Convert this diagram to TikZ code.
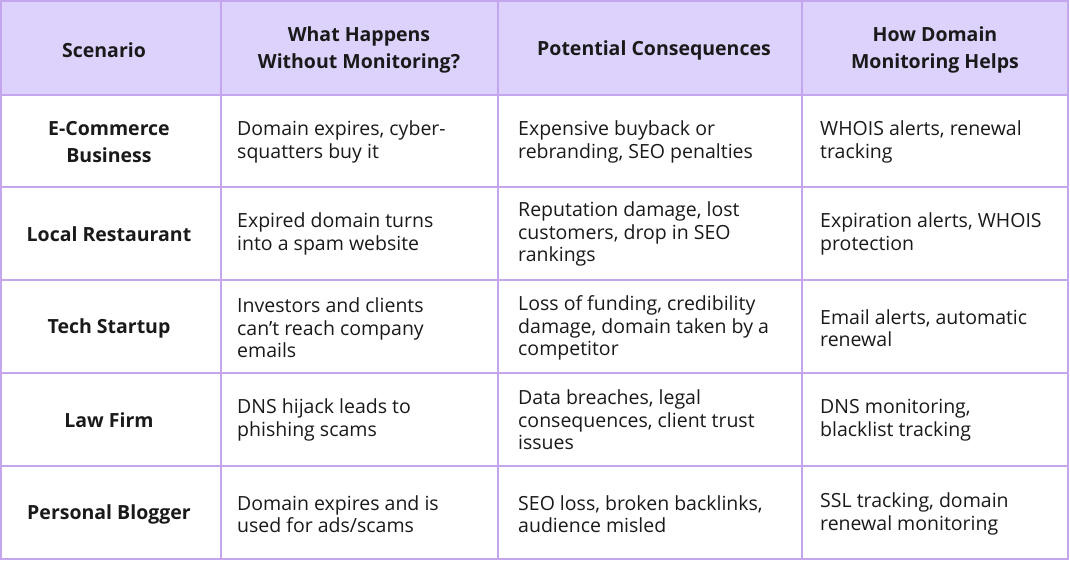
\documentclass[tikz,border=0pt]{standalone}
\usepackage{fontspec}
\setmainfont{Open Sans}
\definecolor{headfill}{HTML}{DDD2FC}
\definecolor{gridline}{HTML}{C3A6EE}
\definecolor{txt}{HTML}{1A1A1A}
\begin{document}
\begin{tikzpicture}[x=1pt,y=-1pt]

  \tikzstyle{head}=[font=\fontsize{19.5}{27}\selectfont\bfseries,align=center,text=txt]
  \tikzstyle{rowname}=[font=\fontsize{19.5}{27}\selectfont\bfseries,align=center,text=txt]
  \tikzstyle{cell}=[font=\fontsize{19.5}{22.5}\selectfont,align=left,anchor=west,text=txt,inner sep=0pt]

  \useasboundingbox (0,0) rectangle (1070,561);
  \fill[headfill] (1,1) rectangle (1068,95);
  \fill[white] (1,95) rectangle (1068,559);

  % header
  \node[head] (h-1) at (104,50) {Scenario};
  \node[head] (h-2) at (359,50) {What Happens\\Without Monitoring?};
  \node[head] (h-3) at (654,50) {Potential Consequences};
  \node[head] (h-4) at (935,50) {How Domain\\Monitoring Helps};

  % rows
  \foreach \r/\y/\a/\b/\c/\d in {
    1/142/{E-Commerce\\Business}/{Domain expires, cyber-\\squatters buy it}/{Expensive buyback or\\rebranding, SEO penalties}/{WHOIS alerts, renewal\\tracking},
    2/234/{Local Restaurant}/{Expired domain turns\\into a spam website}/{Reputation damage, lost\\customers, drop in SEO\\rankings}/{Expiration alerts, WHOIS\\protection},
    3/328/{Tech Startup}/{Investors and clients\\can’t reach company\\emails}/{Loss of funding, credibility\\damage, domain taken by a\\competitor}/{Email alerts, automatic\\renewal},
    4/420/{Law Firm}/{DNS hijack leads to\\phishing scams}/{Data breaches, legal\\consequences, client trust\\issues}/{DNS monitoring,\\blacklist tracking},
    5/514/{Personal Blogger}/{Domain expires and is\\used for ads/scams}/{SEO loss, broken backlinks,\\audience misled}/{SSL tracking, domain\\renewal monitoring}}
  {
    \node[rowname] (r\r-1) at (109,\y) {\a};
    \node[cell] (r\r-2) at (237,\y) {\b};
    \node[cell] (r\r-3) at (518,\y) {\c};
    \node[cell] (r\r-4) at (820,\y) {\d};
  }

  % grid
  \draw[gridline,line width=2pt] (1,1) rectangle (1068,559);
  \foreach \x in {221,498,802}
    \draw[gridline,line width=2pt] (\x,1) -- (\x,559);
  \foreach \y in {95,187,280,373,466}
    \draw[gridline,line width=2pt] (1,\y) -- (1068,\y);
\end{tikzpicture}
\end{document}
